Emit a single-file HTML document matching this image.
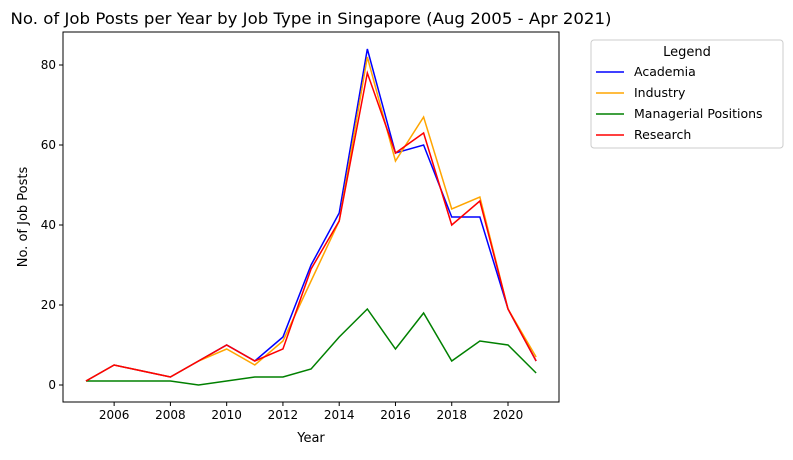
<!DOCTYPE html>
<html><head><meta charset="utf-8"><style>
body{margin:0;background:#fff;font-family:"Liberation Sans","DejaVu Sans",sans-serif}
</style></head><body>
<svg width="793" height="455" id="c" style="font-family:'DejaVu Sans','Liberation Sans',sans-serif">
<text x="311" y="24" font-size="16" text-anchor="middle" textLength="601" lengthAdjust="spacingAndGlyphs">No. of Job Posts per Year by Job Type in Singapore (Aug 2005 - Apr 2021)</text>
<text x="311" y="442" font-size="13" text-anchor="middle">Year</text>
<text transform="translate(27,217) rotate(-90)" font-size="13" text-anchor="middle">No. of Job Posts</text>
<g id="plot"></g>
<g>
<rect x="591" y="40" width="192" height="108" rx="3" fill="#fff" stroke="#ccc"/>
<text x="687" y="56" font-size="13" text-anchor="middle">Legend</text>
<g id="leg"></g>
</g>
</svg>
<script>
const years=[2005,2006,2007,2008,2009,2010,2011,2012,2013,2014,2015,2016,2017,2018,2019,2020,2021];
const academia=[1,5,3.5,2,6,10,6,12,30,43,84,58,60,42,42,19,6];
const industry=[1,5,3.5,2,6,9,5,11,26,41,82,56,67,44,47,19,7];
const managerial=[1,1,1,1,0,1,2,2,4,12,19,9,18,6,11,10,3];
const research=[1,5,3.5,2,6,10,6,9,29,41,78,58,63,40,46,19,6];
const xTicks=[2006,2008,2010,2012,2014,2016,2018,2020];
const yTicks=[0,20,40,60,80];
const seriesNames=["Academia","Industry","Managerial Positions","Research"];
const NS="http://www.w3.org/2000/svg";
const L=63,R=559,T=32,B=402;
const x=v=>86+(v-2005)*(508-86)/15;
const y=v=>385-v*4;
const g=document.getElementById('plot');
function mk(t,a,p){const e=document.createElementNS(NS,t);for(const k in a)e.setAttribute(k,a[k]);(p||g).appendChild(e);return e;}
xTicks.forEach(t=>{
 const l=mk('line',{x1:x(t),x2:x(t),y1:B,y2:B+4,stroke:'#000'});
 
 
 const tx=mk('text',{x:x(t),y:B+17,'font-size':12,'text-anchor':'middle'});tx.textContent=t;
 
 
});
yTicks.forEach(t=>{
 const l=mk('line',{x1:L-4,x2:L,y1:y(t),y2:y(t),stroke:'#000'});
 
 
 const tx=mk('text',{x:L-7,y:y(t)+4,'font-size':12,'text-anchor':'end'});tx.textContent=t;
 
 
});
const data=[academia,industry,managerial,research];
const colors=['blue','orange','green','red'];
data.forEach((d,i)=>{
 const p=mk('polyline',{points:d.map((v,j)=>x(years[j])+','+y(v)).join(' '),fill:'none',stroke:colors[i],'stroke-width':1.5});
 
 
 const lg=document.getElementById('leg');
 const ly=72+i*21;
 const ll=mk('line',{x1:596,x2:624,y1:ly,y2:ly,stroke:colors[i],'stroke-width':1.5},lg);
 
 
 const lt=mk('text',{x:634,y:ly+4,'font-size':12.5},lg);lt.textContent=seriesNames[i];
 
 
});
const fr=mk('rect',{x:L,y:T,width:R-L,height:B-T,fill:'none',stroke:'#000'});


</script>
</body></html>
